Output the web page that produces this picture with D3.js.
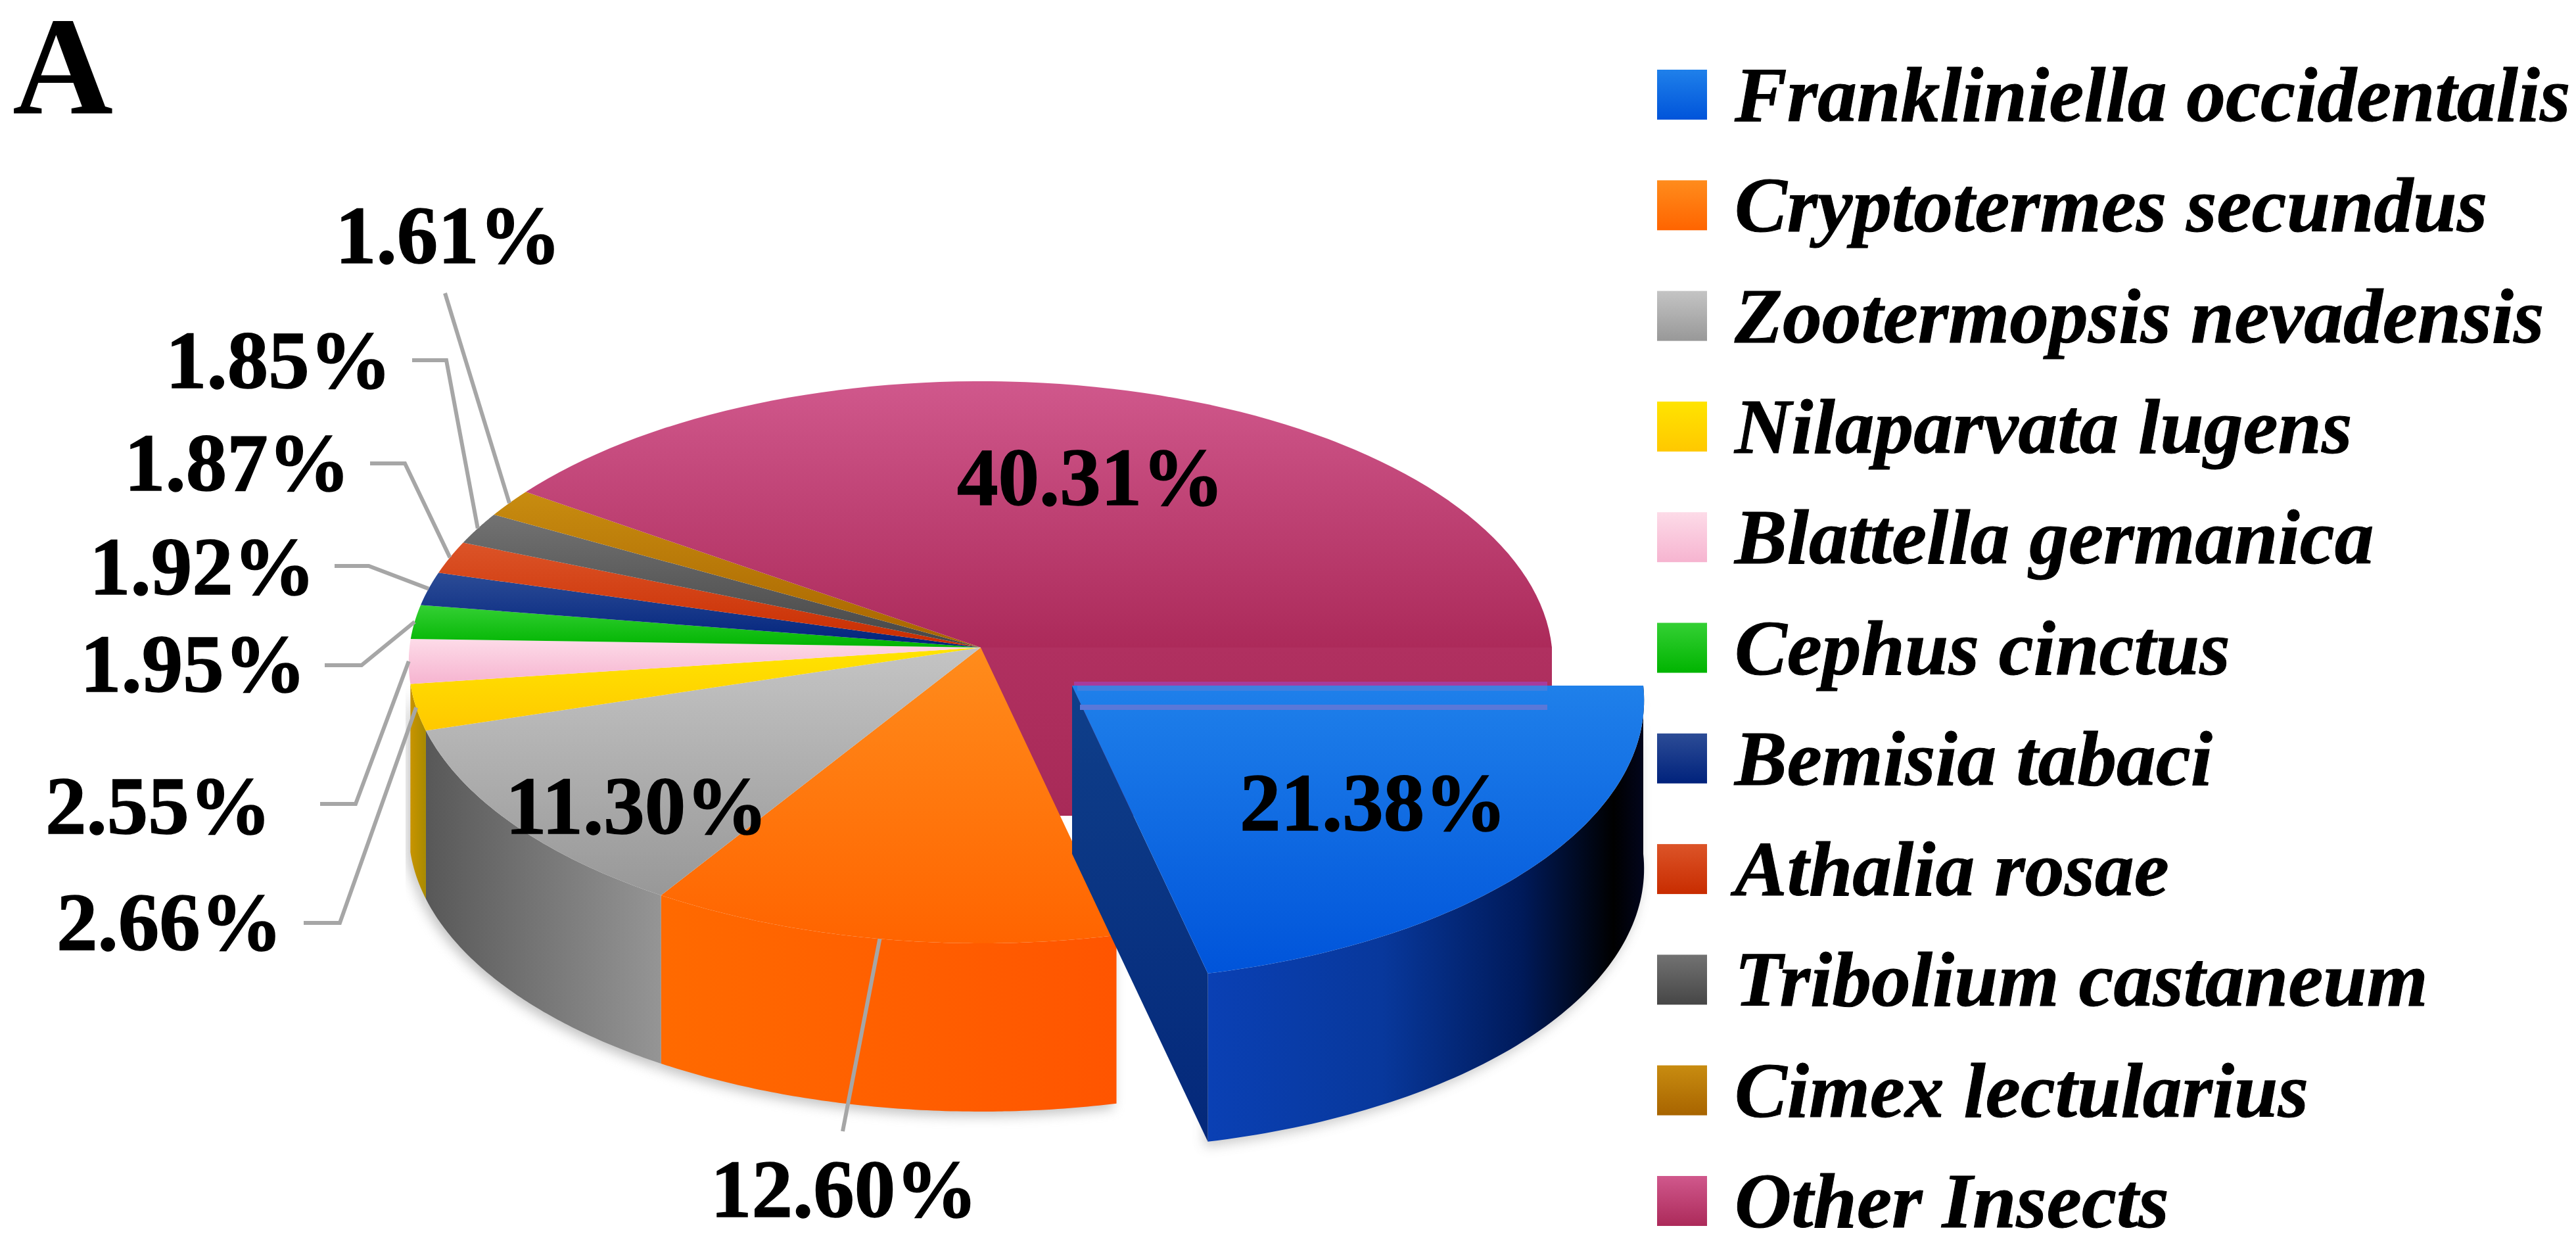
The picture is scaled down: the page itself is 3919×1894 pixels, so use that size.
<!DOCTYPE html>
<html>
<head>
<meta charset="utf-8">
<script src="https://cdn.jsdelivr.net/npm/d3@7"></script>
<style>
  html, body { margin: 0; padding: 0; background: #fff; }
  text { font-family: "Liberation Serif", serif; font-weight: bold; fill: #000; }
</style>
</head>
<body>
<script>
// data
const species = ["Frankliniella occidentalis", "Cryptotermes secundus", "Zootermopsis nevadensis",
    "Nilaparvata lugens", "Blattella germanica", "Cephus cinctus", "Bemisia tabaci",
    "Athalia rosae", "Tribolium castaneum", "Cimex lectularius", "Other Insects"];
const percents = [21.38, 12.60, 11.30, 2.66, 2.55, 1.95, 1.92, 1.87, 1.85, 1.61, 40.31];

// colours (top and bottom of each gradient)
const colorTop = ["#1f80ea", "#ff8c1c", "#c4c4c4", "#ffe400", "#fddbe8", "#34d034",
    "#2c4c96", "#dc5428", "#727272", "#c88c10", "#d0588c"];
const colorBottom = ["#0054da", "#ff6400", "#989898", "#ffc800", "#f6b4d0", "#00b400",
    "#00227c", "#c82c00", "#464646", "#a86400", "#ac2a5a"];

// label layout, same order as the data
const labelX = [1886, 1081, 769, 86, 69, 122, 136, 189, 252, 510, 1456];
const labelY = [1263, 1851, 1268, 1445, 1268, 1052, 904, 746, 590, 400, 768];
const leaderStartX = [null, 1282, null, 462, 487, 494, 509, 563, 627, 677, null];
const leaderElbowX = [null, 1282, null, 517, 541, 550, 561, 616, 679, 677, null];
const leaderY = [null, 1721, null, 1404, 1223, 1012, 861, 705, 548, 446, null];

// dimensions
const dms = { width: 3919, height: 1894 };
const pieGeo = { cx: 1492, cy: 985, radius: 869, tilt: 426.3, persp: 0.0526, depth: 256 };
const explode = { x: 139, y: 58 };
const legendGeo = { x: 2521, y: 106, size: 76, step: 168.3, textX: 2639, baseline: 184 };

const svg = d3.select("body").append("svg")
    .attr("width", dms.width)
    .attr("height", dms.height)
    .style("display", "block");
const defs = svg.append("defs");

// perspective projection of the pie's flat disc; theta is measured from 3 o'clock, clockwise
const project = (theta, r = 1) => {
    const u = r * Math.cos(theta), v = r * Math.sin(theta);
    const w = 1 / (1 - pieGeo.persp * v);
    return [pieGeo.cx + pieGeo.radius * u * w, pieGeo.cy + pieGeo.tilt * v * w];
};

const arcs = d3.pie().sort(null)
    .startAngle(Math.PI / 2)
    .endAngle(Math.PI * 2.5)(percents)
    .map(d => ({ ...d, a0: d.startAngle - Math.PI / 2, a1: d.endAngle - Math.PI / 2 }));

const rim = (a0, a1) => {
    const step = d3.scaleLinear().domain([0, 80]).range([a0, a1]);
    return d3.range(81).map(i => project(step(i)));
};
const line = d3.line();
const topPath = d => line([project(0, 0), ...rim(d.a0, d.a1)]) + "Z";
const wallPath = d => {
    const r = rim(d.a0, d.a1);
    return line([...r, ...r.slice().reverse().map(p => [p[0], p[1] + pieGeo.depth])]) + "Z";
};

// gradients
function addGradient(id, stops, horizontal) {
    const g = defs.append("linearGradient").attr("id", id)
        .attr("x1", 0).attr("y1", 0)
        .attr("x2", horizontal ? 1 : 0).attr("y2", horizontal ? 0 : 1);
    stops.forEach(s => g.append("stop").attr("offset", s[0]).attr("stop-color", s[1]));
}
percents.forEach((p, i) => addGradient("top" + i, [[0, colorTop[i]], [1, colorBottom[i]]]));
addGradient("wall0", [[0, "#0a40b4"], [0.4, "#08389c"], [0.72, "#001a5a"], [0.93, "#000000"], [1, "#02051c"]], true);
addGradient("wall1", [[0, "#ff6a00"], [1, "#ff5500"]], true);
addGradient("wall2", [[0, "#585858"], [1, "#959595"]], true);
addGradient("wall3", [[0, "#c89400"], [1, "#a88a00"]], true);
addGradient("innerBlue", [[0, "#0f3f8a"], [1, "#04287a"]]);
addGradient("innerMagenta", [[0, "#b03060"], [1, "#a82a58"]]);
defs.append("filter").attr("id", "soft")
    .attr("x", "-10%").attr("y", "-10%").attr("width", "120%").attr("height", "120%")
  .append("feGaussianBlur").attr("stdDeviation", 9);

const pie = svg.append("g");
const front = arcs.slice(0, 4);
const nAfter = arcs.slice(1);

// soft shadow below the side walls
pie.selectAll("path.shadow").data(front.slice(1))
  .enter().append("path")
    .attr("d", wallPath)
    .attr("transform", "translate(-5,7)")
    .attr("fill", "#888")
    .attr("opacity", 0.5)
    .attr("filter", "url(#soft)");
pie.append("path")
    .attr("d", wallPath(arcs[0]))
    .attr("transform", `translate(${explode.x - 5},${explode.y + 7})`)
    .attr("fill", "#888")
    .attr("opacity", 0.45)
    .attr("filter", "url(#soft)");

// the magenta cut face that the pulled out slice uncovers
const cutEnd = project(0);
const cut = project(0, 0);
pie.append("path")
    .attr("d", line([cut, cutEnd, [cutEnd[0], cutEnd[1] + pieGeo.depth], [cut[0], cut[1] + pieGeo.depth]]) + "Z")
    .attr("fill", "url(#innerMagenta)");

// outer walls of the front slices still in place
pie.selectAll("path.wall").data(front.slice(1))
  .enter().append("path")
    .attr("d", wallPath)
    .attr("fill", d => `url(#wall${d.index})`);

// top faces
pie.selectAll("path.top").data(nAfter)
  .enter().append("path")
    .attr("d", topPath)
    .attr("fill", d => `url(#top${d.index})`);

// pulled out slice
const blue = pie.append("g").attr("transform", `translate(${explode.x},${explode.y})`);
blue.append("path").attr("d", wallPath(arcs[0])).attr("fill", "url(#wall0)");
const inner = project(arcs[0].a1);
blue.append("path")
    .attr("d", line([cut, inner, [inner[0], inner[1] + pieGeo.depth], [cut[0], cut[1] + pieGeo.depth]]) + "Z")
    .attr("fill", "url(#innerBlue)");
blue.append("path").attr("d", topPath(arcs[0])).attr("fill", "url(#top0)");
// pale bands along the back edge of the slice, they stop at the rim of the pie behind it
const bandEnd = cutEnd[0] - explode.x - 7;
blue.append("rect").attr("x", cut[0] + 3).attr("y", cut[1] - 6)
    .attr("width", bandEnd - cut[0] - 3).attr("height", 6).attr("fill", "#a63c9e");
blue.append("rect").attr("x", cut[0] + 8).attr("y", cut[1])
    .attr("width", bandEnd - cut[0] - 8).attr("height", 8).attr("fill", "#3f80e0");
blue.append("rect").attr("x", cut[0] + 12).attr("y", cut[1] + 29)
    .attr("width", bandEnd - cut[0] - 12).attr("height", 8).attr("fill", "#5a78d8");

// leader lines
const leaders = arcs.filter(d => leaderY[d.index] !== null);
svg.append("g").selectAll("path").data(leaders)
  .enter().append("path")
    .attr("d", d => line([
        [leaderStartX[d.index], leaderY[d.index]],
        [leaderElbowX[d.index], leaderY[d.index]],
        project((d.a0 + d.a1) / 2)
    ]))
    .attr("fill", "none")
    .attr("stroke", "#a6a6a6")
    .attr("stroke-width", 6);

// value labels
svg.append("g").selectAll("text").data(arcs)
  .enter().append("text")
    .attr("x", d => labelX[d.index])
    .attr("y", d => labelY[d.index])
    .attr("font-size", 125)
    .attr("stroke", "#000")
    .attr("stroke-width", 1.5)
    .text(d => d3.format(".2f")(d.data) + "%");

// legend
const legend = svg.append("g").selectAll("g").data(species)
  .enter().append("g");
legend.append("rect")
    .attr("x", legendGeo.x)
    .attr("y", (d, i) => legendGeo.y + i * legendGeo.step)
    .attr("width", legendGeo.size)
    .attr("height", legendGeo.size)
    .attr("fill", (d, i) => `url(#top${i})`);
legend.append("text")
    .attr("x", legendGeo.textX)
    .attr("y", (d, i) => legendGeo.baseline + i * legendGeo.step)
    .attr("font-size", 119.5)
    .attr("font-style", "italic")
    .attr("stroke", "#000")
    .attr("stroke-width", 1)
    .text(d => d);

// panel letter
svg.append("text").attr("x", 19).attr("y", 172).attr("font-size", 212).text("A");
</script>
</body>
</html>
